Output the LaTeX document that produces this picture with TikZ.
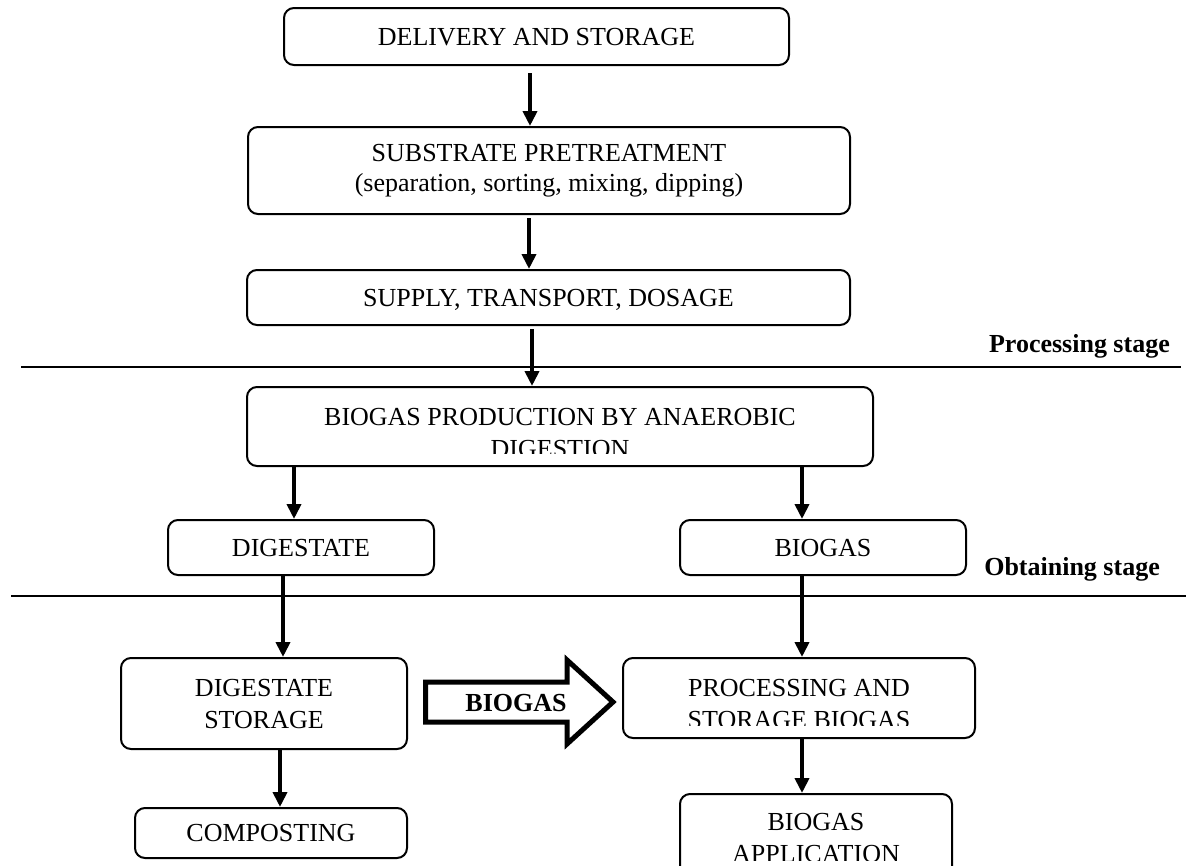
\documentclass[tikz,border=0pt]{standalone}
\usepackage{fontspec}
\setmainfont{Liberation Serif}
\usetikzlibrary{arrows.meta}
\begin{document}
\begin{tikzpicture}[x=1pt,y=-1pt,
  box/.style={draw, line width=2pt, rounded corners=10pt, inner sep=0pt, align=center,
    font=\fontsize{26}{32}\selectfont, text depth=0pt},
  lbl/.style={inner sep=0pt, font=\fontsize{26}{32}\selectfont, anchor=base},
  flow/.style={line width=4.5pt, -{Triangle[width=14pt,length=15pt]}},
  sepline/.style={line width=2.2pt},
  stage/.style={inner sep=0pt, font=\fontsize{26}{32}\selectfont\bfseries, anchor=base east},
  hollow/.style={line width=5pt, line join=miter, miter limit=10}]
\useasboundingbox (0,0) rectangle (1186,865);
\clip (0,0) rectangle (1186,865);

% boxes
\node[box, minimum width=505pt, minimum height=57pt] (b1) at (536.5,36.5) {DELIVERY AND STORAGE};
\node[box, minimum width=602pt, minimum height=87pt, text depth=6pt] (b2) at (549,170.5)
  {SUBSTRATE PRETREATMENT\\[-2pt](separation, sorting, mixing, dipping)};
\node[box, minimum width=603pt, minimum height=55pt] (b3) at (548.5,297.5) {SUPPLY, TRANSPORT, DOSAGE};
\node[box, minimum width=626pt, minimum height=79pt] (b4) at (560,426.5) {};
\begin{scope}
  \clip (250,389) rectangle (870,453);
  \node[lbl] (t4a) at (560,425) {BIOGAS PRODUCTION BY ANAEROBIC};
  \node[lbl] (t4b) at (560,457) {DIGESTION};
\end{scope}
\node[box, minimum width=266pt, minimum height=55pt] (dig) at (301,547.5) {DIGESTATE};
\node[box, minimum width=286pt, minimum height=55pt] (bio) at (823,547.5) {BIOGAS};
\node[box, minimum width=286pt, minimum height=91pt] (stor) at (264,703.5) {DIGESTATE\\STORAGE};
\node[box, minimum width=272pt, minimum height=50pt] (comp) at (271,833) {COMPOSTING};
\node[box, minimum width=352pt, minimum height=80pt] (pb) at (799,698) {};
\begin{scope}
  \clip (626,661) rectangle (972,725);
  \node[lbl] (tpa) at (799,696) {PROCESSING AND};
  \node[lbl] (tpb) at (799,728) {STORAGE BIOGAS};
\end{scope}
\node[box, minimum width=272pt, minimum height=96pt] (app) at (816,842) {};
\begin{scope}
  \clip (683,797) rectangle (949,860);
  \node[lbl] (taa) at (816,830) {BIOGAS};
  \node[lbl] (tab) at (816,862) {APPLICATION};
\end{scope}

% stage separators and labels
\coordinate (l1a) at (21,367);
\coordinate (l1b) at (1181,367);
\coordinate (l2a) at (11,596);
\coordinate (l2b) at (1186,596);
\draw[sepline] (l1a) -- (l1b);
\draw[sepline] (l2a) -- (l2b);
\node[stage] (ps) at (1170,352) {Processing stage};
\node[stage] (os) at (1160,575) {Obtaining stage};

% arrow columns
\coordinate (xa1) at (530,0);
\coordinate (xa2) at (529,0);
\coordinate (xa3) at (532,0);
\coordinate (xa4) at (294,0);
\coordinate (xa6) at (283,0);
\coordinate (xa8) at (280,0);
\coordinate (xr) at (802,0);

\draw[flow, shorten <=7pt] (b1.south -| xa1) -- (b2.north -| xa1);
\draw[flow, shorten <=3pt] (b2.south -| xa2) -- (b3.north -| xa2);
\draw[flow, shorten <=3pt] (b3.south -| xa3) -- (b4.north -| xa3);
\draw[flow] (b4.south -| xa4) -- (dig.north -| xa4);
\draw[flow] (b4.south -| xr) -- (bio.north -| xr);
\draw[flow] (dig.south -| xa6) -- (stor.north -| xa6);
\draw[flow] (bio.south -| xr) -- (pb.north -| xr);
\draw[flow] (stor.south -| xa8) -- (comp.north -| xa8);
\draw[flow] (pb.south -| xr) -- (app.north -| xr);

% hollow BIOGAS arrow
\draw[hollow] (425.5,682) -- (567,682) -- (567,660) -- (613,702) -- (567,744) -- (567,722) -- (425.5,722) -- cycle;
\node[lbl, font=\fontsize{26}{32}\selectfont\bfseries] (bg) at (516,711) {BIOGAS};
\end{tikzpicture}
\end{document}
